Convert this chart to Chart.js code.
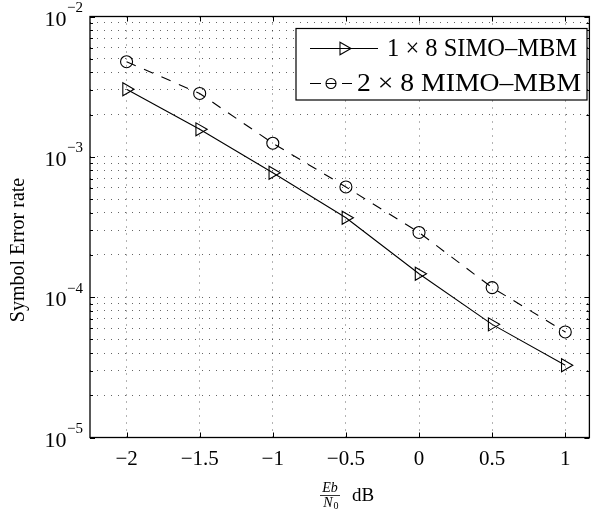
<!DOCTYPE html>
<html>
<head>
<meta charset="utf-8">
<script src="https://cdn.jsdelivr.net/npm/chart.js@4"></script>
<style>
  html, body { margin: 0; padding: 0; background: #fff; }
  #wrap { width: 598px; height: 510px; }
</style>
</head>
<body>
<div id="wrap"><canvas id="ser"></canvas></div>
<script>
// data
const snrDb = [-2, -1.5, -1, -0.5, 0, 0.5, 1];
const simoSer = [3.03e-3, 1.57e-3, 7.7e-4, 3.68e-4, 1.47e-4, 6.4e-5, 3.27e-5];
const mimoSer = [4.76e-3, 2.83e-3, 1.25e-3, 6.1e-4, 2.89e-4, 1.17e-4, 5.65e-5];
const xTicks = [-2, -1.5, -1, -0.5, 0, 0.5, 1];
const yDecades = [-5, -4, -3, -2];
const seriesNames = ['1 \u00d7 8 SIMO\u2013MBM', '2 \u00d7 8 MIMO\u2013MBM'];

const serif = "'Liberation Serif', 'DejaVu Serif', serif";
const gridColor = 'rgba(0,0,0,0.6)';

// log minor ticks 1..9 per decade
const yTicks = [];
for (let p = -5; p < -2; p++) {
    for (let m = 1; m < 10; m++) yTicks.push(m * Math.pow(10, p));
}
yTicks.push(1e-2);

const pts = (ys) => snrDb.map((x, i) => ({ x: x, y: ys[i] }));

// box, inward ticks, y labels, legend, x title
const decorations = {
    id: 'decorations',
    afterDraw(chart) {
        const ctx = chart.ctx;
        const a = chart.chartArea;
        const xs = chart.scales.x, ys = chart.scales.y;
        ctx.save();
        ctx.strokeStyle = '#000';
        ctx.lineWidth = 1;
        ctx.setLineDash([]);

        // inward ticks
        ctx.beginPath();
        xTicks.forEach(v => {
            const px = Math.round(xs.getPixelForValue(v)) + 0.5;
            ctx.moveTo(px, a.bottom); ctx.lineTo(px, a.bottom - 5);
            ctx.moveTo(px, a.top); ctx.lineTo(px, a.top + 5);
        });
        yTicks.forEach(v => {
            const py = Math.round(ys.getPixelForValue(v)) + 0.5;
            const major = Math.abs(Math.log10(v) - Math.round(Math.log10(v))) < 1e-9;
            const len = major ? 5 : 3;
            ctx.moveTo(a.left, py); ctx.lineTo(a.left + len, py);
            ctx.moveTo(a.right, py); ctx.lineTo(a.right - len, py);
        });
        ctx.stroke();

        // axes box
        ctx.lineWidth = 1.3;
        ctx.strokeRect(a.left, a.top, a.right - a.left, a.bottom - a.top);

        // y tick labels 10^p
        ctx.fillStyle = '#000';
        ctx.textBaseline = 'alphabetic';
        yDecades.forEach(p => {
            const py = ys.getPixelForValue(Math.pow(10, p));
            const sup = '\u2212' + Math.abs(p);
            ctx.font = '15px ' + serif;
            const supW = ctx.measureText(sup).width;
            const supX = 83 - supW;
            ctx.textAlign = 'left';
            ctx.fillText(sup, supX, py - 4.5);
            ctx.font = '22px ' + serif;
            ctx.textAlign = 'right';
            ctx.fillText('10', supX - 0.5, py + 9);
        });

        // y title
        ctx.save();
        ctx.translate(19, 250);
        ctx.rotate(-Math.PI / 2);
        ctx.font = '20px ' + serif;
        ctx.textAlign = 'center';
        ctx.textBaseline = 'middle';
        ctx.fillText('Symbol Error rate', 0, 0);
        ctx.restore();

        // x title: Eb/N0 dB
        const fx = 330;
        ctx.textAlign = 'center';
        ctx.textBaseline = 'alphabetic';
        ctx.font = 'italic 14px ' + serif;
        ctx.fillText('Eb', fx, 492);
        ctx.beginPath();
        ctx.lineWidth = 0.8;
        ctx.moveTo(fx - 10, 495.5); ctx.lineTo(fx + 10, 495.5);
        ctx.stroke();
        ctx.font = 'italic 14px ' + serif;
        ctx.fillText('N', fx - 2, 507);
        ctx.font = '10px ' + serif;
        ctx.fillText('0', fx + 6, 509);
        ctx.font = '19px ' + serif;
        ctx.textAlign = 'left';
        ctx.fillText('dB', 352, 501);

        // legend
        const lx0 = 296, lx1 = 587, ly0 = 28.5, ly1 = 100;
        ctx.fillStyle = '#fff';
        ctx.fillRect(lx0, ly0, lx1 - lx0, ly1 - ly0);
        ctx.lineWidth = 1.2;
        ctx.strokeStyle = '#000';
        ctx.strokeRect(lx0, ly0, lx1 - lx0, ly1 - ly0);
        ctx.fillStyle = '#000';
        ctx.textAlign = 'left';
        ctx.textBaseline = 'middle';

        // entry 1: solid + triangle
        const e1 = 48.5;
        ctx.lineWidth = 1.1;
        ctx.beginPath();
        ctx.moveTo(310, e1); ctx.lineTo(378, e1);
        ctx.stroke();
        ctx.beginPath();
        ctx.moveTo(351, e1); ctx.lineTo(340, e1 - 6.3); ctx.lineTo(340, e1 + 6.3); ctx.closePath();
        ctx.stroke();
        ctx.font = '24.5px ' + serif;
        ctx.fillText(seriesNames[0], 387, e1 + 1);

        // entry 2: dashed + circle
        const e2 = 83.5;
        ctx.beginPath();
        ctx.moveTo(310, e2); ctx.lineTo(321, e2);
        ctx.moveTo(342, e2); ctx.lineTo(352, e2);
        ctx.moveTo(326, e2); ctx.lineTo(336, e2);
        ctx.stroke();
        ctx.beginPath();
        ctx.arc(331, e2, 5, 0, Math.PI * 2);
        ctx.stroke();
        // second label is set wider in the figure; stretch to fit box
        const w2 = ctx.measureText(seriesNames[1]).width;
        ctx.save();
        ctx.translate(357, e2 + 1);
        ctx.scale(224 / w2, 1);
        ctx.fillText(seriesNames[1], 0, 0);
        ctx.restore();

        ctx.restore();
    }
};

const ctx = document.getElementById('ser').getContext('2d');
new Chart(ctx, {
    type: 'line',
    data: {
        datasets: [
            {
                label: seriesNames[0],
                data: pts(simoSer),
                borderColor: '#000',
                borderWidth: 1.1,
                pointStyle: 'triangle',
                pointRotation: 90,
                pointRadius: 7.5,
                pointBorderWidth: 1.1,
                pointBorderColor: '#000',
                pointBackgroundColor: 'rgba(0,0,0,0)',
                tension: 0
            },
            {
                label: seriesNames[1],
                data: pts(mimoSer),
                borderColor: '#000',
                borderWidth: 1.1,
                borderDash: [10, 9],
                pointStyle: 'circle',
                pointRadius: 6,
                pointBorderWidth: 1.1,
                pointBorderColor: '#000',
                pointBackgroundColor: 'rgba(0,0,0,0)',
                tension: 0
            }
        ]
    },
    options: {
        responsive: true,
        maintainAspectRatio: false,
        animation: false,
        events: [],
        layout: { padding: { left: 0, right: 5, top: 16.5, bottom: 0 } },
        plugins: {
            legend: { display: false },
            tooltip: { enabled: false }
        },
        scales: {
            x: {
                type: 'linear',
                min: -2.25,
                max: 1.165,
                afterBuildTicks: (scale) => { scale.ticks = xTicks.map(v => ({ value: v })); },
                afterFit: (scale) => { scale.height = 72.5; },
                ticks: {
                    color: '#000',
                    font: { family: serif, size: 21 },
                    padding: 9,
                    maxRotation: 0,
                    callback: (v) => (v < 0 ? '\u2212' + Math.abs(v) : String(v))
                },
                grid: { color: gridColor, lineWidth: 1, drawTicks: false },
                border: { display: false, dash: [1, 6] }
            },
            y: {
                type: 'logarithmic',
                min: 1e-5,
                max: 1e-2,
                afterBuildTicks: (scale) => { scale.ticks = yTicks.map(v => ({ value: v })); },
                afterFit: (scale) => { scale.width = 90; },
                ticks: { display: false },
                grid: { color: gridColor, lineWidth: 1, drawTicks: false },
                border: { display: false, dash: [1, 6] }
            }
        }
    },
    plugins: [decorations]
});
</script>
</body>
</html>
